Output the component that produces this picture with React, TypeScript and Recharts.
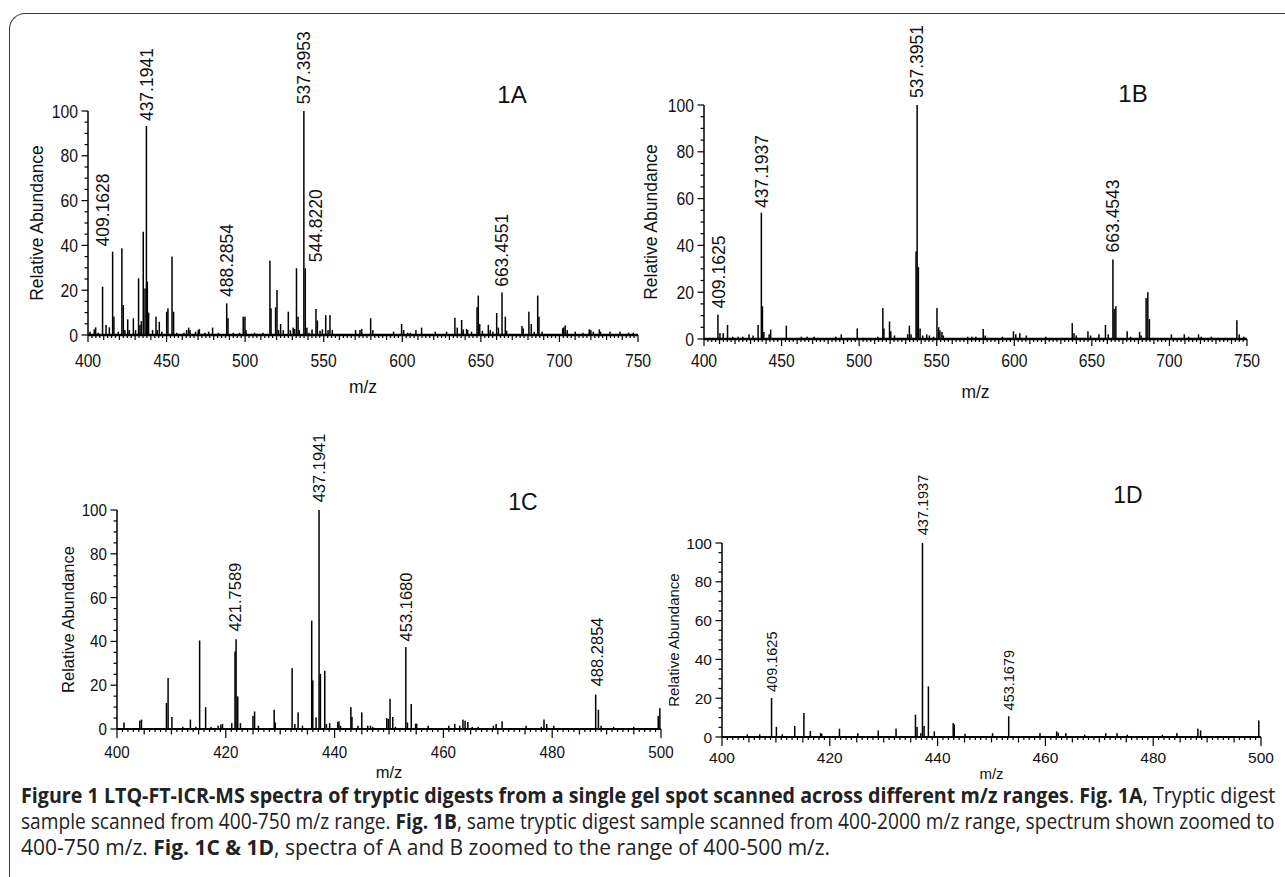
import React, { useLayoutEffect, useRef, useState } from 'react';
import { ComposedChart, Bar, XAxis, YAxis, ReferenceDot } from 'recharts';

const FONT = '"Liberation Sans", Arial, Helvetica, sans-serif';

// ---- 1A: 400-750 scan ----
const mzA = [
  401.3, 404.0, 404.9, 406.5, 409.3, 411.5, 413.6, 415.7, 416.5, 419.3, 421.6, 422.5, 423.5, 425.3, 426.3,
  428.9, 430.3, 432.2, 433.1, 434.0, 435.2, 436.3, 437.2, 437.8, 438.6, 441.1, 443.3, 444.1, 445.4, 447.0,
  450.1, 450.9, 453.5, 454.5, 456.6, 461.1, 462.8, 464.1, 465.0, 468.5, 470.2, 470.9, 474.5, 476.8, 479.3,
  483.0, 488.3, 489.1, 492.5, 496.5, 498.8, 499.9, 500.6, 506.0, 511.3, 515.8, 516.5, 519.4, 520.3, 521.3,
  522.6, 524.3, 527.5, 528.8, 530.6, 531.5, 532.7, 533.7, 534.5, 537.4, 538.3, 539.3, 540.6, 542.6, 545.1,
  546.0, 547.7, 549.2, 551.3, 552.8, 554.0, 555.5, 570.3, 573.1, 574.2, 579.9, 581.3, 594.5, 599.6, 600.9,
  603.5, 605.2, 608.7, 612.3, 621.0, 628.2, 633.5, 635.0, 637.8, 638.8, 640.9, 641.6, 644.1, 647.6, 648.4,
  649.3, 651.0, 654.8, 656.0, 657.7, 660.1, 661.2, 663.5, 665.6, 666.4, 676.2, 677.0, 680.6, 682.1, 684.0,
  686.2, 687.0, 689.0, 702.1, 702.8, 703.7, 705.0, 710.1, 715.0, 719.0, 720.0, 721.6, 725.4, 726.2, 732.2,
  738.6, 744.0, 747.0,
];
const abA = [
  1.5, 2.5, 3.4, 1.0, 21.6, 4.5, 3.4, 37.2, 8.2, 1.5, 38.7, 13.4, 2.2, 7.0, 2.2,
  7.5, 2.2, 25.3, 4.5, 6.2, 46.1, 20.8, 93.3, 23.8, 10.0, 2.2, 8.2, 2.2, 5.9, 1.5,
  10.4, 11.9, 35.0, 10.4, 1.0, 1.0, 2.2, 3.3, 2.2, 1.5, 2.2, 2.7, 1.0, 1.5, 3.3,
  1.0, 14.1, 7.5, 1.0, 1.0, 8.2, 8.2, 2.2, 1.0, 1.0, 33.2, 11.9, 12.3, 20.1, 2.2,
  4.9, 2.2, 10.4, 2.2, 3.3, 2.7, 29.8, 8.2, 2.2, 100, 29.8, 3.3, 1.0, 2.5, 11.6,
  6.5, 1.9, 2.5, 8.9, 2.2, 8.9, 2.2, 2.2, 2.2, 2.7, 7.5, 2.2, 1.5, 4.9, 2.2,
  1.0, 1.0, 2.2, 3.3, 1.5, 1.5, 7.7, 3.3, 6.7, 2.5, 2.7, 2.2, 1.5, 12.4, 17.6,
  4.9, 1.9, 4.5, 2.2, 1.5, 9.8, 3.3, 19.0, 8.2, 1.9, 4.0, 2.9, 10.4, 4.9, 1.5,
  17.6, 8.2, 1.5, 3.0, 3.4, 4.3, 2.2, 1.5, 1.0, 2.5, 2.2, 1.5, 2.5, 1.5, 1.5,
  1.5, 1.0, 1.0,
];
const labelsA = ['409.1628', '437.1941', '488.2854', '537.3953', '544.8220', '663.4551'];
const labelAtA = [39.5, 95.5, 17.0, 103.0, 32.5, 21.5];

// ---- 1B: 400-2000 scan, zoomed to 400-750 ----
const mzB = [
  409.0, 410.3, 412.4, 415.2, 418.5, 422.0, 425.0, 429.0, 431.7, 434.9, 437.0, 437.7, 438.6, 442.0, 443.0,
  453.1, 462.8, 466.5, 471.0, 485.0, 488.5, 498.8, 512.0, 515.3, 516.0, 519.6, 520.4, 522.8, 531.3, 532.4,
  533.5, 536.7, 537.4, 538.2, 539.3, 541.0, 543.6, 545.3, 548.0, 550.2, 551.3, 552.1, 553.4, 554.3, 570.0,
  572.7, 575.3, 580.0, 581.3, 592.4, 599.5, 601.0, 603.6, 607.8, 620.3, 637.4, 638.5, 640.0, 647.5, 649.2,
  654.6, 658.8, 660.6, 663.6, 664.4, 665.5, 672.8, 675.0, 680.8, 681.8, 685.0, 686.1, 687.1, 701.3, 709.6,
  712.4, 718.8, 720.5, 727.0, 743.5, 745.0, 748.0,
];
const abB = [
  10.4, 2.5, 2.5, 6.0, 1.0, 1.0, 1.0, 2.0, 1.5, 6.0, 54.0, 14.0, 3.0, 2.0, 4.0,
  5.7, 1.0, 1.0, 1.0, 1.0, 2.0, 4.5, 1.0, 13.2, 4.5, 7.5, 3.3, 1.5, 2.0, 5.7,
  2.0, 37.4, 100, 30.7, 4.5, 1.5, 2.0, 1.5, 1.0, 13.2, 5.0, 3.7, 3.0, 1.5, 1.0,
  1.0, 1.0, 4.3, 1.5, 1.0, 3.3, 2.0, 2.5, 1.5, 1.0, 6.8, 2.5, 1.5, 3.3, 1.5,
  2.0, 6.0, 2.0, 34.0, 12.8, 14.0, 3.3, 1.0, 3.0, 1.5, 17.5, 20.0, 8.5, 2.0, 2.0,
  1.0, 2.0, 1.0, 1.0, 8.0, 2.0, 1.0,
];
const labelsB = ['409.1625', '437.1937', '537.3951', '663.4543'];
const labelAtB = [13.0, 56.0, 103.0, 37.0];

// ---- 1C: spectrum A zoomed to 400-500 ----
const mzC = [
  401.3, 404.2, 404.5, 409.1, 409.4, 410.1, 412.1, 413.5, 414.5, 415.2, 416.3, 417.3, 418.6, 419.1, 419.4,
  421.1, 421.7, 421.9, 422.2, 422.7, 425.0, 425.3, 426.0, 428.9, 429.1, 432.2, 432.7, 433.3, 434.1, 435.8,
  436.0, 436.6, 437.15, 437.4, 438.2, 438.5, 439.1, 440.6, 440.8, 441.1, 443.0, 443.2, 444.3, 445.0, 446.1,
  446.6, 447.0, 449.6, 449.9, 450.2, 450.7, 451.2, 453.1, 453.4, 454.1, 454.9, 455.1, 457.2, 461.0, 462.1,
  463.0, 463.6, 464.0, 464.5, 465.3, 466.4, 469.2, 469.7, 470.8, 475.2, 478.0, 478.5, 479.0, 480.3, 488.0,
  488.5, 489.0, 491.3, 495.0, 499.5, 499.8,
];
const abC = [
  3.0, 3.8, 4.3, 11.9, 23.3, 5.5, 1.0, 4.3, 1.0, 40.4, 10.0, 1.0, 1.5, 2.0, 2.3,
  2.7, 35.4, 41.0, 14.9, 2.7, 6.0, 8.0, 1.5, 8.8, 3.0, 27.8, 2.3, 7.6, 1.5, 49.5,
  22.2, 5.3, 100, 25.2, 26.6, 2.3, 2.7, 3.2, 3.5, 1.5, 10.0, 5.5, 1.5, 7.6, 1.5,
  1.5, 1.0, 5.0, 4.6, 13.8, 5.5, 1.0, 37.4, 3.0, 11.4, 2.4, 2.4, 1.5, 1.5, 2.3,
  1.5, 4.3, 3.8, 3.2, 1.0, 1.0, 1.5, 2.3, 3.5, 1.5, 1.0, 4.3, 2.3, 1.5, 15.7,
  8.8, 1.5, 1.0, 1.0, 6.0, 9.5,
];
const labelsC = ['421.7589', '437.1941', '453.1680', '488.2854'];
const labelAtC = [44.5, 103.5, 40.0, 19.5];

// ---- 1D: spectrum B zoomed to 400-500 ----
const mzD = [
  404.7, 407.0, 409.2, 410.1, 411.2, 413.5, 415.2, 416.4, 418.3, 418.5, 421.8, 425.2, 429.0, 432.3, 435.9,
  436.2, 436.9, 437.2, 437.5, 438.3, 439.4, 442.9, 443.1, 445.1, 450.2, 453.2, 459.0, 462.1, 462.4, 463.8,
  467.3, 471.2, 473.3, 475.2, 481.7, 484.4, 488.3, 488.8, 499.6,
];
const abD = [
  1.4, 1.4, 20.1, 5.2, 1.4, 5.7, 12.4, 3.1, 2.0, 1.7, 4.3, 2.0, 3.4, 4.3, 11.5,
  5.2, 2.0, 100, 5.7, 26.1, 2.9, 7.2, 6.5, 1.7, 2.0, 10.7, 2.0, 2.9, 2.2, 2.0,
  1.2, 2.0, 2.0, 1.2, 1.2, 2.0, 4.3, 3.4, 8.5,
];
const labelsD = ['409.1625', '437.1937', '453.1679'];
const labelAtD = [23.2, 104.0, 13.7];

// ---- axis ticks ----
const yMajor = [0, 20, 40, 60, 80, 100];

function minorTicks(from: number, to: number, step: number) {
  const out: number[] = [];
  for (let v = from; v <= to + 1e-9; v += step) out.push(Math.round(v * 100) / 100);
  return out;
}
const yTicks = minorTicks(0, 100, 5);

const isMult = (v: number, s: number) => Math.abs(v / s - Math.round(v / s)) < 1e-6;

function Stick(p: any) {
  const { x, y, width, height } = p;
  if (![x, y, width, height].every((n) => Number.isFinite(n))) return null;
  return <rect x={x + width / 2 - 0.75} y={y} width={1.5} height={Math.max(0, height)} fill="#000" />;
}

function PeakLabel({ cx, cy, text, size }: any) {
  if (!Number.isFinite(cx) || !Number.isFinite(cy)) return null;
  return (
    <text x={cx} y={cy} dy="0.36em" transform={`rotate(-90 ${cx} ${cy})`} textAnchor="start"
      fontSize={size} fontFamily={FONT} fill="#111">
      {text}
    </text>
  );
}

function XTick(p: any) {
  const { x, y, payload, major, mid, font, sx, off, lens } = p;
  const v = payload.value;
  const big = isMult(v, major);
  const len = big ? lens[0] : isMult(v, mid) ? lens[1] : lens[2];
  return (
    <g>
      <line x1={x} x2={x} y1={y} y2={y + len} stroke="#000" strokeWidth={1.2} />
      {big && (
        <text transform={`translate(${x},${y + off}) scale(${sx},1)`} textAnchor="middle" dy="0.36em"
          fontSize={font} fontFamily={FONT} fill="#111">
          {v}
        </text>
      )}
    </g>
  );
}

function YTick(p: any) {
  const { x, y, payload, font, sx } = p;
  const v = payload.value;
  const big = yMajor.includes(v);
  return (
    <g>
      <line x1={x - (big ? 6.5 : 3.5)} x2={x} y1={y} y2={y} stroke="#000" strokeWidth={1.2} />
      {big && (
        <text transform={`translate(${x - 10},${y}) scale(${sx},1)`} textAnchor="end" dy="0.36em"
          fontSize={font} fontFamily={FONT} fill="#111">
          {v}
        </text>
      )}
    </g>
  );
}

function YTitle({ viewBox, off, size }: any) {
  if (!viewBox) return null;
  const cx = viewBox.x + viewBox.width - off;
  const cy = viewBox.y + viewBox.height / 2;
  return (
    <text x={cx} y={cy} dy="0.36em" transform={`rotate(-90 ${cx} ${cy})`} textAnchor="middle"
      fontSize={size} fontFamily={FONT} fill="#111">
      Relative Abundance
    </text>
  );
}

function XTitle({ viewBox, off, size }: any) {
  if (!viewBox) return null;
  const cx = viewBox.x + viewBox.width / 2;
  return (
    <text x={cx} y={viewBox.y + off} dy="0.36em" textAnchor="middle" fontSize={size} fontFamily={FONT} fill="#111">
      m/z
    </text>
  );
}

type Panel = {
  mz: number[]; ab: number[]; labels: string[]; labelAt: number[];
  left: number; top: number; width: number; height: number;
  marginTop: number; marginRight: number; yW: number; xH: number;
  domain: [number, number]; mid: number; minor: number; major: number;
  tickFont: number; sx: number; tickOff: number; lens: number[]; base: number;
  labelFont: number; titleFont: number; yOff: number; xOff: number;
};

function Spectrum(p: Panel) {
  const data = p.mz.map((m, i) => ({ mz: m, ab: p.ab[i] }));
  const xTicks = minorTicks(p.domain[0], p.domain[1], p.minor);
  return (
    <div style={{ position: 'absolute', left: p.left, top: p.top }}>
      <ComposedChart width={p.width} height={p.height} data={data} barSize={1}
        margin={{ top: p.marginTop, right: p.marginRight, bottom: 0, left: 0 }}>
        <XAxis type="number" dataKey="mz" domain={p.domain} ticks={xTicks} interval={0}
          tickSize={0} tickMargin={0} tickLine={false} height={p.xH}
          axisLine={{ stroke: '#000', strokeWidth: p.base }}
          tick={<XTick major={p.major} mid={p.mid} font={p.tickFont} sx={p.sx} off={p.tickOff} lens={p.lens} />}
          label={<XTitle off={p.xOff} size={p.titleFont} />} />
        <YAxis type="number" domain={[0, 100]} ticks={yTicks} interval={0} width={p.yW}
          tickSize={0} tickMargin={0} tickLine={false}
          axisLine={{ stroke: '#000', strokeWidth: 1.5 }}
          tick={<YTick font={p.tickFont} sx={p.sx} />}
          label={<YTitle off={p.yOff} size={p.titleFont} />} />
        <Bar dataKey="ab" isAnimationActive={false} shape={<Stick />} />
        {p.labels.map((t, i) => (
          <ReferenceDot key={t} x={parseFloat(t)} y={p.labelAt[i]} ifOverflow="visible" r={0}
            shape={(s: any) => <PeakLabel cx={s.cx} cy={s.cy} text={t} size={p.labelFont} />} />
        ))}
      </ComposedChart>
    </div>
  );
}

const titleStyle = (x: number, y: number, size: number): React.CSSProperties => ({
  position: 'absolute', left: x - 30, top: y - size * 0.6, width: 60, textAlign: 'center',
  fontFamily: FONT, fontSize: size, lineHeight: `${size * 1.2}px`, color: '#111',
});

// squeezes a caption line so it spans exactly the caption width (like the justified original)
function FitLine({ children, width }: { children: React.ReactNode; width?: number }) {
  const ref = useRef<HTMLSpanElement>(null);
  const [s, setS] = useState(1);
  useLayoutEffect(() => {
    const w = ref.current ? ref.current.offsetWidth : 0;
    if (width && w > 0) setS(width / w);
  }, [width]);
  return (
    <div style={{ height: 26, whiteSpace: 'nowrap' }}>
      <span ref={ref} style={{ display: 'inline-block', transform: `scaleX(${s})`, transformOrigin: '0 0' }}>
        {children}
      </span>
    </div>
  );
}

export default function App() {
  return (
    <div style={{ position: 'absolute', left: 0, top: 0, width: 1285, height: 877, overflow: 'hidden', background: '#fff' }}>
      <div style={{
        position: 'absolute', left: 9, top: 13, width: 1400, height: 1000,
        borderTop: '1.5px solid #3a3a3a', borderLeft: '1.5px solid #3a3a3a', borderTopLeftRadius: 16,
      }} />
      <Spectrum mz={mzA} ab={abA} labels={labelsA} labelAt={labelAtA}
        left={10} top={20} width={641} height={385} marginTop={91} marginRight={13} yW={78} xH={70}
        domain={[400, 750]} major={50} mid={10} minor={2.5} base={2.4}
        tickFont={18.5} sx={0.85} tickOff={25} lens={[7, 5, 3]}
        labelFont={17.5} titleFont={17.5} yOff={51} xOff={52} />
      <Spectrum mz={mzB} ab={abB} labels={labelsB} labelAt={labelAtB}
        left={642} top={15} width={619} height={390} marginTop={90} marginRight={14} yW={62} xH={66}
        domain={[400, 750]} major={50} mid={10} minor={2.5} base={2.4}
        tickFont={18.5} sx={0.85} tickOff={21} lens={[7, 5, 3]}
        labelFont={17.5} titleFont={17.5} yOff={53} xOff={53} />
      <Spectrum mz={mzC} ab={abC} labels={labelsC} labelAt={labelAtC}
        left={40} top={420} width={635} height={370} marginTop={90} marginRight={14} yW={77} xH={61}
        domain={[400, 500]} major={20} mid={5} minor={1} base={2}
        tickFont={16.5} sx={0.92} tickOff={23} lens={[9, 5.5, 3]}
        labelFont={16.5} titleFont={16.5} yOff={49} xOff={43} />
      <Spectrum mz={mzD} ab={abD} labels={labelsD} labelAt={labelAtD}
        left={660} top={455} width={615} height={335} marginTop={88} marginRight={14} yW={62} xH={53}
        domain={[400, 500]} major={20} mid={5} minor={1} base={2}
        tickFont={15.5} sx={1} tickOff={20} lens={[9, 5.5, 3]}
        labelFont={14.5} titleFont={15} yOff={48} xOff={37} />
      <div style={titleStyle(512, 95, 24)}>1A</div>
      <div style={titleStyle(1133, 94, 24)}>1B</div>
      <div style={titleStyle(523, 503, 23)}>1C</div>
      <div style={titleStyle(1128, 496, 23)}>1D</div>
      <div style={{
        position: 'absolute', left: 21, top: 782, width: 1254, fontFamily: '"Open Sans", sans-serif',
        fontSize: 21, lineHeight: '26px', color: '#222',
      }}>
        <FitLine width={1254}>
          <b>Figure 1 LTQ-FT-ICR-MS spectra of tryptic digests from a single gel spot scanned across different m/z ranges</b>. <b>Fig. 1A</b>, Tryptic digest
        </FitLine>
        <FitLine width={1254}>
          sample scanned from 400-750 m/z range. <b>Fig. 1B</b>, same tryptic digest sample scanned from 400-2000 m/z range, spectrum shown zoomed to
        </FitLine>
        <FitLine>
          400-750 m/z. <b>Fig. 1C &amp; 1D</b>, spectra of A and B zoomed to the range of 400-500 m/z.
        </FitLine>
      </div>
    </div>
  );
}
